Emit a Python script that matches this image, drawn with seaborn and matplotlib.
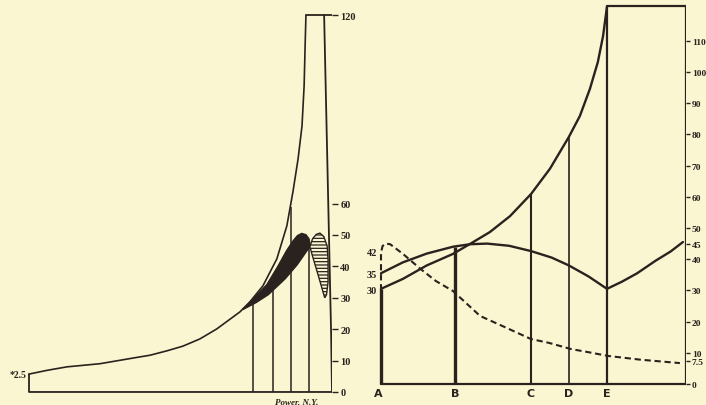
import matplotlib
matplotlib.use("Agg")
import matplotlib.pyplot as plt
import seaborn as sns

# ---------------- data: left diagram (Power, N.Y.) ----------------
left_curve_x = [0, 6, 12.5, 23.4, 34.3, 39.9, 45.5, 50.8, 56.4, 62.0, 66.5, 69.6, 72.9,
                77.2, 81.8, 85.1, 87.1, 88.8, 90.1, 90.8, 91.1, 91.4]
left_curve_y = [5.7, 6.9, 8.0, 9.0, 10.8, 11.7, 13.1, 14.6, 16.9, 20.1, 23.3, 25.5, 28.7,
                33.8, 42.4, 52.9, 63.7, 74.2, 84.7, 97.5, 109.2, 120]
left_start_label = "*2.5"
left_vline_x = [74.0, 80.5, 86.5, 92.4]
left_vline_top = [28.0, 32.4, 59.0, 46.3]
left_edge_x = [0, 0, 100, 99.7, 97.4, 97.4]
left_edge_y = [5.7, 0, 0, 19, 120, 120]
left_top_x = [91.4, 100]
left_top_y = [120, 120]
blob_x = [70.5, 74.5, 78.5, 82.0, 85.0, 87.2, 88.6, 90.0, 91.4, 92.4, 92.7, 92.4,
          91.6, 88.5, 84.5, 79.0, 75.0, 70.5]
blob_y = [26.2, 30.2, 34.2, 39.8, 45.0, 48.2, 49.8, 50.5, 50.1, 48.8, 47.2, 45.8,
          44.8, 40.5, 36.0, 31.0, 28.5, 26.2]
hatch_x = [92.7, 93.6, 94.8, 96.0, 97.3, 98.4, 98.7, 98.7, 98.2, 97.6, 95.5, 93.5, 92.7]
hatch_y = [46.3, 48.8, 50.2, 50.6, 49.5, 46.5, 42.0, 35.0, 31.0, 30.0, 37.0, 43.5, 46.3]
left_ticks = [0, 10, 20, 30, 40, 50, 60, 120]
left_ticklabels = ["0", "10", "20", "30", "40", "50", "60", "120"]
left_xlabel = "Power, N.Y."

# ---------------- data: right diagram (A-E) ----------------
stations = ["A", "B", "C", "D", "E"]
station_x = [0, 24.3, 49.2, 61.6, 74.1]
station_top = [30.5, 44.0, 60.9, 79.2, 121]
curve1_x = [0, 7.2, 15, 23.6, 29.2, 35.7, 42.3, 49.2, 55.4, 61.6, 65.2, 68.5, 71.1, 72.8, 74.1]
curve1_y = [30.5, 33.7, 38.0, 41.7, 44.9, 48.7, 53.8, 60.9, 69.0, 79.2, 85.9, 94.6, 103.2, 111.5, 121]
curve2_x = [0, 7.2, 15, 23.6, 29.2, 34.8, 42, 49.2, 56, 61.6, 68, 74.1, 79, 84, 90, 95, 99]
curve2_y = [35.5, 39, 41.8, 44, 44.8, 45, 44.3, 42.6, 40.5, 38, 34.5, 30.5, 32.8, 35.5, 39.5, 42.5, 45.5]
dash_x = [0, 0, 0.5, 1.5, 3, 7.2, 12.8, 18, 23.6, 32.5, 40, 49.2, 55, 62.3, 68, 74.4, 85, 98]
dash_y = [30, 42, 44.2, 45, 44.8, 41.7, 37, 33, 29.8, 21.8, 18.5, 14.4, 13.2, 11.2, 10.2, 9, 7.8, 6.7]
right_frame_x = [0, 100, 100, 74.1]
right_frame_y = [0, 0, 121, 121]
right_left_labels = ["42", "35", "30"]
right_left_vals = [42, 35, 30]
right_ticks = [0, 7.5, 10, 20, 30, 40, 45, 50, 60, 70, 80, 90, 100, 110]
right_ticklabels = ["0", "7.5", "10", "20", "30", "40", "45", "50", "60", "70", "80", "90", "100", "110"]

# ---------------- style ----------------
sns.set_theme(style="white")
plt.rcParams["font.family"] = ["Liberation Serif", "DejaVu Serif"]
plt.rcParams["font.weight"] = "bold"
plt.rcParams["hatch.linewidth"] = 0.9
INK = "#2a221e"
PAPER = "#faf6d2"
plt.rcParams["hatch.color"] = INK

W, H = 706, 406
fig = plt.figure(figsize=(W / 100, H / 100), dpi=100, facecolor=PAPER)


def rect(px_left, px_right, px_bottom, px_top):
    return [px_left / W, (H - px_bottom) / H, (px_right - px_left) / W, (px_bottom - px_top) / H]


# left axes: xlim (-5,100) ; ylim (-3,124)
axL = fig.add_axes(rect(13.85, 332, 402.4, 3.64))
axL.set_xlim(-5, 100)
axL.set_ylim(-3, 124)
# right axes: xlim (-6,100) ; ylim (-6,123)
axR = fig.add_axes(rect(362.7, 686, 403.72, 1.24))
axR.set_xlim(-6, 100)
axR.set_ylim(-6, 123)

for ax in (axL, axR):
    ax.set_facecolor("none")
    for s in ax.spines.values():
        s.set_visible(False)
    ax.set_xticks([])
    ax.yaxis.tick_right()
    ax.grid(False)
axL.tick_params(axis="y", direction="out", length=4, width=1.0, pad=2,
                colors=INK, labelsize=7.5)
axR.tick_params(axis="y", direction="out", length=3, width=1.0, pad=1.2,
                colors=INK, labelsize=6.8)

# ---- left diagram ----
sns.lineplot(x=left_curve_x, y=left_curve_y, ax=axL, sort=False, estimator=None,
             color=INK, lw=1.2)
sns.lineplot(x=left_edge_x, y=left_edge_y, ax=axL, sort=False, estimator=None,
             color=INK, lw=1.3)
sns.lineplot(x=left_top_x, y=left_top_y, ax=axL, sort=False, estimator=None,
             color=INK, lw=1.3)
axL.vlines(left_vline_x, 0, left_vline_top, color=INK, lw=1.1)
axL.fill(blob_x, blob_y, color=INK, lw=1.0)
axL.fill(hatch_x, hatch_y, facecolor="none", edgecolor=INK, hatch="-----", lw=1.0)
axL.set_yticks(left_ticks)
axL.set_yticklabels(left_ticklabels)
axL.text(-0.8, left_curve_y[0], left_start_label, ha="right", va="center",
         fontsize=7, color=INK, fontweight="bold")
axL.text(88.5, -1.6, left_xlabel, ha="center", va="top", fontsize=6.5,
         color=INK, fontstyle="italic", fontweight="bold")

# ---- right diagram ----
sns.lineplot(x=curve1_x, y=curve1_y, ax=axR, sort=False, estimator=None, color=INK, lw=1.7)
sns.lineplot(x=curve2_x, y=curve2_y, ax=axR, sort=False, estimator=None, color=INK, lw=1.7)
sns.lineplot(x=dash_x, y=dash_y, ax=axR, sort=False, estimator=None, color=INK, lw=1.5,
             linestyle=(0, (3, 1.8)))
sns.lineplot(x=right_frame_x, y=right_frame_y, ax=axR, sort=False, estimator=None,
             color=INK, lw=1.6)
widths = [2.4, 2.4, 1.5, 1.2, 1.6]
for xv, top, lw in zip(station_x, station_top, widths):
    axR.vlines(xv, 0, top, color=INK, lw=lw)
for name, xv in zip(stations, station_x):
    axR.text(xv - (1.0 if name == "A" else 0), -3.0, name, ha="center", va="center",
             fontsize=8, color=INK, fontweight="bold", family=["DejaVu Sans"])
for lab, v in zip(right_left_labels, right_left_vals):
    axR.text(-1.2, v, lab, ha="right", va="center", fontsize=7.5, color=INK,
             fontweight="bold")
axR.set_yticks(right_ticks)
axR.set_yticklabels(right_ticklabels)

fig.savefig("out.png", dpi=100, facecolor=PAPER)
